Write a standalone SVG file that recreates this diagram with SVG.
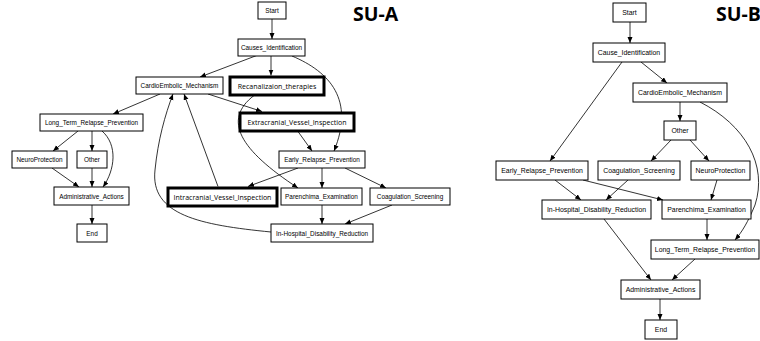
<svg xmlns="http://www.w3.org/2000/svg" width="760" height="341" viewBox="0 0 760 341">
<style>
.n rect{fill:#fff;stroke:#000;stroke-width:1}
.n.t rect{stroke-width:3}
.n text{font-family:"Liberation Sans",Arial,sans-serif;font-size:6.4px;text-anchor:middle;dominant-baseline:central;fill:#000}
.b .n text{font-size:6.9px}
.n.t text{font-family:"Open Sans","Liberation Sans",sans-serif;font-size:7px}
.e path{fill:none;stroke:#000;stroke-width:0.8;marker-end:url(#ah)}
.lbl{font-family:"Open Sans","Liberation Sans",sans-serif;font-weight:bold;font-size:19.5px;fill:#000}
</style>
<defs>
<marker id="ah" markerUnits="userSpaceOnUse" markerWidth="7" markerHeight="6" refX="6" refY="2.5" orient="auto">
<path d="M0,0 L6,2.5 L0,5 z" fill="#000"/>
</marker>
</defs>
<rect width="760" height="341" fill="#fff"/>
<text class="lbl" x="353" y="21">SU-A</text>
<text class="lbl" x="716" y="21">SU-B</text>

<g id="edges-a" class="e">
<path d="M272,19 L272,39"/>
<path d="M258,55 L200,77"/>
<path d="M271,56 L271,75.5"/>
<path d="M292,56 C330,72 355,100 334,151"/>
<path d="M160,94 L113,114"/>
<path d="M208,94 L262,111.5"/>
<path d="M218,186.5 L184,94"/>
<path d="M271,232 C200,225 150,215 155,170 C158,140 165,115 173,94"/>
<path d="M254,95.5 C222,120 240,150 298,188"/>
<path d="M298,131.5 L312,151"/>
<path d="M298,168 L248,186.5"/>
<path d="M322,168 L322,188"/>
<path d="M345,168 L386,188"/>
<path d="M322,205 L322,224"/>
<path d="M392,205 L345,224"/>
<path d="M78,131 L53,151"/>
<path d="M92,131 L92,151"/>
<path d="M102,131 C118,145 115,170 103,187"/>
<path d="M52,168 L79,187"/>
<path d="M92,168 L92,187"/>
<path d="M92,205 L92,224"/>
</g>

<g id="graph-a">
<g id="a-start" class="n"><rect x="258" y="2" width="28" height="17"/><text x="272" y="10.5">Start</text></g>
<g id="a-causes" class="n"><rect x="238" y="39" width="67" height="17"/><text x="271.5" y="47.5">Causes_Identification</text></g>
<g id="a-cardio" class="n"><rect x="136" y="77" width="87" height="17"/><text x="179.5" y="85.5">CardioEmbolic_Mechanism</text></g>
<g id="a-recan" class="n t"><rect x="230" y="77" width="94" height="18"/><text x="277" y="86">Recanalizaion_therapies</text></g>
<g id="a-long" class="n"><rect x="40" y="114" width="103" height="17"/><text x="91.5" y="122.5">Long_Term_Relapse_Prevention</text></g>
<g id="a-extra" class="n t"><rect x="240" y="113" width="114" height="18"/><text x="297" y="122">Extracranial_Vessel_Inspection</text></g>
<g id="a-neuro" class="n"><rect x="12" y="151" width="55" height="17"/><text x="39.5" y="159.5">NeuroProtection</text></g>
<g id="a-other" class="n"><rect x="77" y="151" width="30" height="17"/><text x="92" y="159.5">Other</text></g>
<g id="a-early" class="n"><rect x="279" y="151" width="86" height="17"/><text x="322" y="159.5">Early_Relapse_Prevention</text></g>
<g id="a-admin" class="n"><rect x="54" y="187" width="75" height="18"/><text x="91.5" y="196">Administrative_Actions</text></g>
<g id="a-intra" class="n t"><rect x="168" y="188" width="109" height="18"/><text x="222.5" y="197">Intracranial_Vessel_Inspection</text></g>
<g id="a-paren" class="n"><rect x="281" y="188" width="81" height="17"/><text x="321.5" y="196.5">Parenchima_Examination</text></g>
<g id="a-coag" class="n"><rect x="370" y="188" width="80" height="17"/><text x="410" y="196.5">Coagulation_Screening</text></g>
<g id="a-end" class="n"><rect x="77" y="224" width="30" height="18"/><text x="92" y="233">End</text></g>
<g id="a-inhosp" class="n"><rect x="271" y="224" width="102" height="18"/><text x="322" y="233">In-Hospital_Disability_Reduction</text></g>
</g>

<g id="edges-b" class="e">
<path d="M630,22 L630,43"/>
<path d="M641,62 L667,83"/>
<path d="M622,62 L550,161"/>
<path d="M680,102 L680,121"/>
<path d="M700,102 C745,125 768,165 755,205 C748,222 742,232 735,240"/>
<path d="M671,140 L651,161"/>
<path d="M690,140 L709,161"/>
<path d="M555,180 L581,200"/>
<path d="M583,180 L663,200"/>
<path d="M628,180 L606,200"/>
<path d="M717,180 L711,200"/>
<path d="M707,219 L707,240"/>
<path d="M604,219 L651,280"/>
<path d="M695,259 L672,280"/>
<path d="M660,299 L660,320"/>
</g>

<g id="graph-b" class="b">
<g id="b-start" class="n"><rect x="613" y="3" width="33" height="19"/><text x="629.5" y="12.5">Start</text></g>
<g id="b-cause" class="n"><rect x="593" y="43" width="72" height="19"/><text x="629" y="52.5">Cause_Identification</text></g>
<g id="b-cardio" class="n"><rect x="633" y="83" width="94" height="19"/><text x="680" y="92.5">CardioEmbolic_Mechanism</text></g>
<g id="b-other" class="n"><rect x="664" y="121" width="32" height="19"/><text x="680" y="130.5">Other</text></g>
<g id="b-early" class="n"><rect x="496" y="161" width="92" height="19"/><text x="542" y="170.5">Early_Relapse_Prevention</text></g>
<g id="b-coag" class="n"><rect x="598" y="161" width="82" height="19"/><text x="639" y="170.5">Coagulation_Screening</text></g>
<g id="b-neuro" class="n"><rect x="691" y="161" width="59" height="19"/><text x="720.5" y="170.5">NeuroProtection</text></g>
<g id="b-inhosp" class="n"><rect x="542" y="200" width="109" height="19"/><text x="596.5" y="209.5">In-Hospital_Disability_Reduction</text></g>
<g id="b-paren" class="n"><rect x="662" y="200" width="89" height="19"/><text x="706.5" y="209.5">Parenchima_Examination</text></g>
<g id="b-long" class="n"><rect x="651" y="240" width="108" height="19"/><text x="705" y="249.5">Long_Term_Relapse_Prevention</text></g>
<g id="b-admin" class="n"><rect x="621" y="280" width="79" height="19"/><text x="660.5" y="289.5">Administrative_Actions</text></g>
<g id="b-end" class="n"><rect x="645" y="320" width="32" height="19"/><text x="661" y="329.5">End</text></g>
</g>
</svg>
